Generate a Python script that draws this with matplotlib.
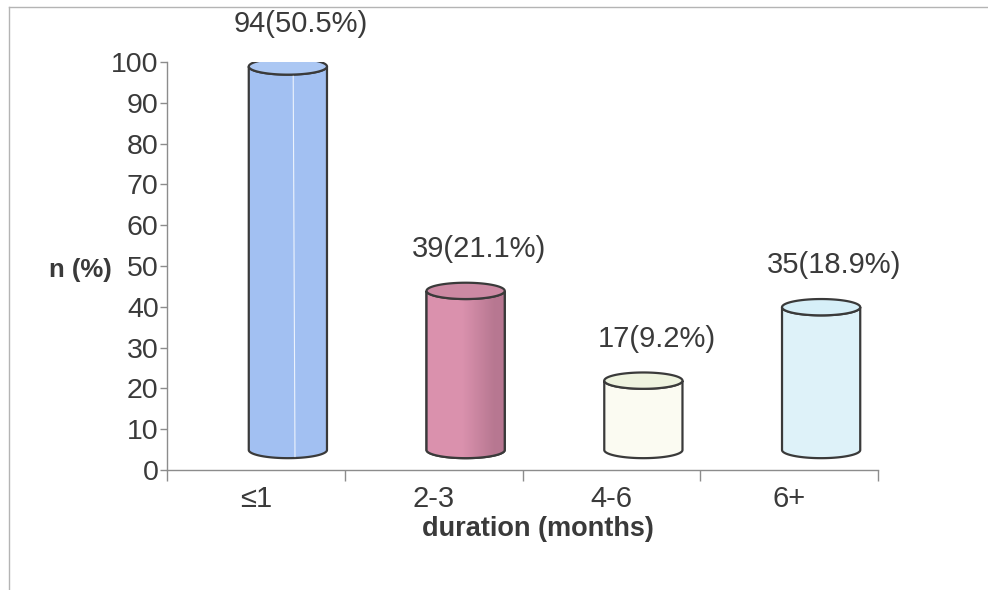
import numpy as np
import matplotlib
matplotlib.use("Agg")
import matplotlib.pyplot as plt
from matplotlib.patches import PathPatch
from matplotlib.path import Path
from matplotlib.lines import Line2D
from matplotlib import transforms

# Data
categories = ["≤1", "2-3", "4-6", "6+"]
counts = [94, 39, 17, 35]
percents = [50.5, 21.1, 9.2, 18.9]
y_ticks = [0, 10, 20, 30, 40, 50, 60, 70, 80, 90, 100]

# Styling
side_colors = ["#a2c0f2", "#d990ad", "#fbfbf2", "#def2f9"]
top_colors = ["#abc7f3", "#cc89a3", "#eef3df", "#d6eff8"]
edge_color = "#3a3a3a"
axis_color = "#8c8c8c"
text_color = "#3a3a3a"
BAR_HALF = 0.22      # half width of a cylinder, in category units
CAP_H = 2.0          # half height of the elliptic caps, in value units

plt.rcParams["font.family"] = ["Liberation Sans", "DejaVu Sans"]

fig = plt.figure(figsize=(9.88, 5.9), dpi=100)
fig.patch.set_facecolor("white")
ax = fig.add_axes([167 / 988, 120 / 590, 711 / 988, 408 / 590])
ax.set_xlim(-0.5, len(categories) - 0.5)
ax.set_ylim(0, 100)
ax.set_facecolor("none")

for s in ("top", "right"):
    ax.spines[s].set_visible(False)
for s in ("left", "bottom"):
    ax.spines[s].set_color(axis_color)
    ax.spines[s].set_linewidth(1.0)

ax.set_yticks(y_ticks)
ax.set_yticklabels([str(t) for t in y_ticks])
ax.tick_params(axis="y", direction="out", length=5, width=1, color=axis_color,
               labelsize=20.5, labelcolor=text_color, pad=1)

# category boundaries carry the tick marks
ax.set_xticks(np.arange(-0.5, len(categories), 1.0))
ax.set_xticklabels([])
ax.tick_params(axis="x", which="major", direction="out", length=8, width=1,
               color=axis_color)

# category names centred under each slot
cat_tr = transforms.blended_transform_factory(ax.transData, fig.transFigure)
for i, name in enumerate(categories):
    ax.text(i, 1 - 499 / 590, name, transform=cat_tr, ha="center", va="center",
            fontsize=21, color=text_color)

# 3-D depth: cylinders are drawn shifted back and up from the axis plane
depth = transforms.offset_copy(ax.transData, fig=fig, x=32, y=20, units="dots")
label_tr = transforms.offset_copy(ax.transData, fig=fig, x=45, y=62, units="dots")


def cylinder_paths(cx, top):
    t_low = np.linspace(np.pi, 2 * np.pi, 60)
    bottom_arc = np.column_stack([cx + BAR_HALF * np.cos(t_low),
                                  CAP_H * np.sin(t_low)])
    top_front = np.column_stack([cx + BAR_HALF * np.cos(t_low[::-1]),
                                 top + CAP_H * np.sin(t_low[::-1])])
    body = np.vstack([[cx - BAR_HALF, top], bottom_arc, top_front,
                      [[cx - BAR_HALF, top]]])
    t_all = np.linspace(0, 2 * np.pi, 120)
    cap = np.column_stack([cx + BAR_HALF * np.cos(t_all),
                           top + CAP_H * np.sin(t_all)])
    return Path(body, closed=True), Path(cap, closed=True)


for i, v in enumerate(counts):
    body, cap = cylinder_paths(i, v)
    body_patch = PathPatch(body, facecolor=side_colors[i], edgecolor=edge_color,
                           lw=1.6, transform=depth, zorder=3)
    ax.add_patch(body_patch)

    if i == 1:
        # darker shading on the right side of the pink cylinder
        grad = np.linspace(0, 1, 200)
        left = np.array([0.855, 0.57, 0.68])
        right = np.array([0.72, 0.47, 0.57])
        w = np.clip((grad - 0.45) / 0.4, 0, 1)[:, None]
        rgb = left * (1 - w) + right * w
        img = np.repeat(rgb[None, :, :], 2, axis=0)
        im = ax.imshow(img, extent=[i - BAR_HALF, i + BAR_HALF, -CAP_H, v + CAP_H],
                       aspect="auto", transform=depth, zorder=3.1,
                       interpolation="bilinear")
        im.set_clip_path(body_patch)
        outline = PathPatch(body, facecolor="none", edgecolor=edge_color,
                            lw=1.6, transform=depth, zorder=3.2)
        ax.add_patch(outline)

    if i == 0:
        ax.plot([i + 0.04, i + 0.03], [CAP_H * -0.8, v - CAP_H], color="white",
                lw=0.8, alpha=0.8, transform=depth, zorder=3.3)

    ax.add_patch(PathPatch(cap, facecolor=top_colors[i], edgecolor=edge_color,
                           lw=1.6, transform=depth, zorder=3.4))

    ax.text(i, v, f"{counts[i]}({percents[i]}%)", transform=label_tr,
            ha="center", va="center", fontsize=21, color=text_color, zorder=5)

fig.text(80 / 988, 1 - 270 / 590, "n (%)", ha="center", va="center",
         fontsize=18.5, fontweight="bold", color=text_color)
fig.text(538 / 988, 1 - 529 / 590, "duration (months)", ha="center",
         va="center", fontsize=19.5, fontweight="bold", color=text_color)

# thin outer frame
fig.add_artist(Line2D([9 / 988, 9 / 988], [0, 1 - 7 / 590],
                      transform=fig.transFigure, color="#b4b4b4", lw=1))
fig.add_artist(Line2D([9 / 988, 1], [1 - 7 / 590, 1 - 7 / 590],
                      transform=fig.transFigure, color="#b4b4b4", lw=1))

fig.savefig("out.png", dpi=100, facecolor="white")
